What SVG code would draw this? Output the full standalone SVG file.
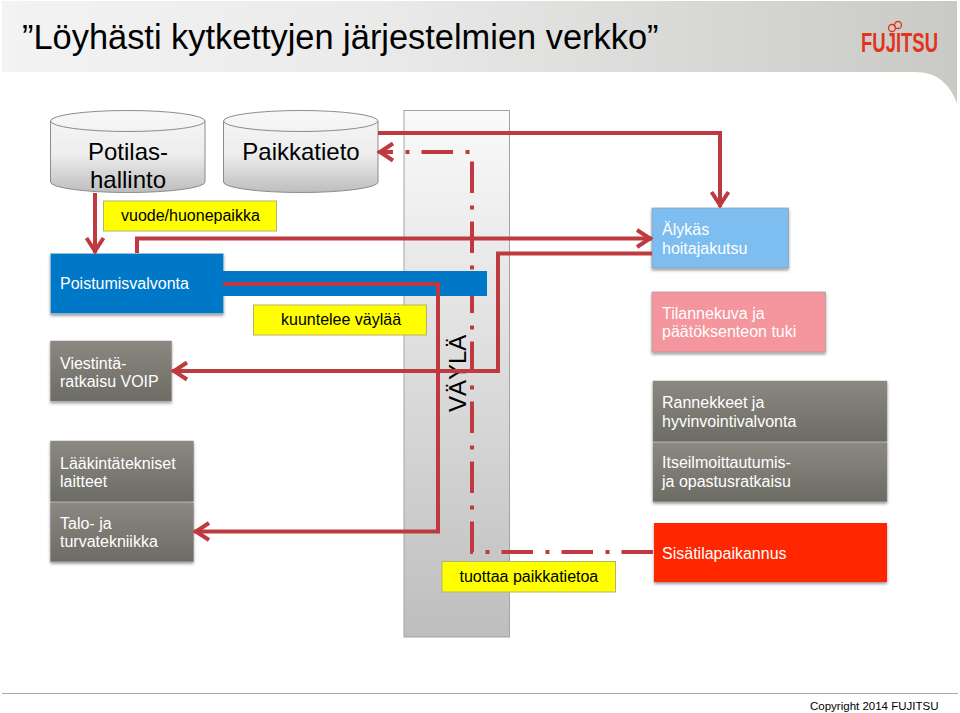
<svg xmlns="http://www.w3.org/2000/svg" width="960" height="713" viewBox="0 0 960 713">
<style>
text{font-family:"Liberation Sans",Arial,sans-serif}
.w{fill:#fff;font-size:16px}
.k{fill:#000;font-size:16px}
.c{fill:#000;font-size:24px;text-anchor:middle}
.y{fill:#ffff00;stroke:#b5b36a;stroke-width:1}
.g{fill:url(#gG);stroke:#8a8880;stroke-width:.5;filter:url(#sh)}
.cy{fill:url(#gC);stroke:#8c8c8c;stroke-width:1}
.r{fill:none;stroke:#bf3a40;stroke-width:4;stroke-linejoin:miter}
</style>
<defs>
<linearGradient id="gH" x1="0" y1="0" x2="1" y2="0"><stop offset="0" stop-color="#f3f3f3"/><stop offset=".4" stop-color="#eaeaea"/><stop offset="1" stop-color="#c9c9c6"/></linearGradient>
<linearGradient id="gC" x1="0" y1="0" x2="0" y2="1"><stop offset="0" stop-color="#f8f8f8"/><stop offset=".55" stop-color="#ececec"/><stop offset="1" stop-color="#bdbdbd"/></linearGradient>
<linearGradient id="gB" x1="0" y1="0" x2="0" y2="1"><stop offset="0" stop-color="#fafafa"/><stop offset="1" stop-color="#bebebe"/></linearGradient>
<linearGradient id="gG" x1="0" y1="0" x2="0" y2="1"><stop offset="0" stop-color="#8b8881"/><stop offset="1" stop-color="#6c6b64"/></linearGradient>
<filter id="sh" x="-10%" y="-10%" width="120%" height="125%"><feDropShadow dx="0" dy="2" stdDeviation="1.5" flood-color="#000" flood-opacity=".4"/></filter>
<marker id="ah" markerUnits="userSpaceOnUse" markerWidth="24" markerHeight="24" refX="20" refY="12" orient="auto" overflow="visible"><path d="M5,3.5 L18,12 L5,20.5" fill="none" stroke="#bf3a40" stroke-width="4"/></marker>
</defs>
<rect width="960" height="713" fill="#fff"/>
<g id="header">
<path d="M2,1 H957 V103 C950,85 938,72 915,72 H2 Z" fill="url(#gH)"/>
<text x="22" y="49" fill="#000" style="font-size:34.400px">”Löyhästi kytkettyjen järjestelmien verkko”</text>
<g id="logo">
<text transform="translate(861,52) scale(.66,1)" fill="#e2341c" style="font-size:28px;font-weight:bold">FUJITSU</text>
<circle cx="892" cy="28" r="3.5" fill="none" stroke="#e2341c" stroke-width="1.3"/><circle cx="898" cy="25" r="3.5" fill="none" stroke="#e2341c" stroke-width="1.3"/>
</g>
</g>
<g id="bus"><rect x="404" y="110.5" width="105.5" height="526.5" fill="url(#gB)" stroke="#a3a3a3" stroke-width="1"/>
<text transform="translate(466,412) rotate(-90)" fill="#000" style="font-size:24px">VÄYLÄ</text></g>
<g id="potilashallinto"><path class="cy" d="M50.5,121 V182 A77.25,10.5 0 0 0 205,182 V121 A77.25,10.5 0 0 0 50.5,121 A77.25,10.5 0 0 0 205,121"/><text class="c" x="128" y="160">Potilas-</text><text class="c" x="128" y="188">hallinto</text></g>
<g id="paikkatieto"><path class="cy" d="M223.5,121 V182 A77.25,10.5 0 0 0 378,182 V121 A77.25,10.5 0 0 0 223.5,121 A77.25,10.5 0 0 0 378,121"/><text class="c" x="301" y="160">Paikkatieto</text></g>
<g id="vuode"><rect class="y" x="103.5" y="201" width="173" height="30"/><text class="k" x="121" y="221">vuode/huonepaikka</text></g>
<g id="poistumisvalvonta"><rect x="50.5" y="253.5" width="173" height="60" fill="#0078c8" stroke="#b9c4cc" stroke-width=".5" filter="url(#sh)"/><text class="w" x="60" y="289">Poistumisvalvonta</text></g>
<g id="kuuntelee"><rect class="y" x="253.5" y="305" width="173" height="30"/><text class="k" x="281" y="325">kuuntelee väylää</text></g>
<g id="viestinta"><rect class="g" x="50.5" y="341" width="121" height="60"/><text class="w" x="60" y="369">Viestintä-</text><text class="w" x="60" y="387">ratkaisu VOIP</text></g>
<g id="laakinta"><rect class="g" x="50.5" y="441" width="143" height="60.5"/><text class="w" x="60" y="469">Lääkintätekniset</text><text class="w" x="60" y="487">laitteet</text></g>
<g id="talo"><rect class="g" x="50.5" y="503" width="143" height="58.5"/><text class="w" x="60" y="529">Talo- ja</text><text class="w" x="60" y="547">turvatekniikka</text></g>
<g id="alykas"><rect x="652" y="208" width="136.5" height="60" fill="#7dbdf0" stroke="#8a9aa5" stroke-width=".7" filter="url(#sh)"/><text class="w" x="662" y="235">Älykäs</text><text class="w" x="662" y="254">hoitajakutsu</text></g>
<g id="tilannekuva"><rect x="652" y="292" width="173.5" height="60" fill="#f5959d" stroke="#a59a9b" stroke-width=".7" filter="url(#sh)"/><text class="w" x="662" y="319">Tilannekuva ja</text><text class="w" x="662" y="337">päätöksenteon tuki</text></g>
<g id="rannekkeet"><rect class="g" x="653" y="381" width="234" height="60.5"/><text class="w" x="662" y="408">Rannekkeet ja</text><text class="w" x="662" y="427">hyvinvointivalvonta</text></g>
<g id="itseilmoittautumis"><rect class="g" x="653" y="443" width="234" height="58.5"/><text class="w" x="662" y="468">Itseilmoittautumis-</text><text class="w" x="662" y="487">ja opastusratkaisu</text></g>
<g id="sisatila"><rect x="654" y="523" width="233" height="59" fill="#ff2800" filter="url(#sh)"/><text class="w" x="662" y="559">Sisätilapaikannus</text></g>
<g id="tuottaa"><rect class="y" x="442" y="561.5" width="173.5" height="30.5"/><text class="k" x="459.5" y="582">tuottaa paikkatietoa</text></g>
<g id="connectors">
<path class="r" stroke-dasharray="31.5 12 4 12.5" d="M653,552 H472 V152 H378" marker-end="url(#ah)"/>
<path d="M223,283.500 H487" stroke="#0078c8" stroke-width="25" fill="none"/>
<path class="r" d="M378,133 H720 V207" marker-end="url(#ah)"/>
<path class="r" d="M95,193 V253" marker-end="url(#ah)"/>
<path class="r" d="M137,253 V238.500 H652" marker-end="url(#ah)"/>
<path class="r" d="M223,284 H438 V531.500 H194" marker-end="url(#ah)"/>
<path class="r" d="M652,253.500 H498 V371 H172" marker-end="url(#ah)"/>
</g>
<g id="footer"><path d="M2,693.500 H958" stroke="#a8a8a8" stroke-width="1.2" fill="none"/><text x="810" y="710" fill="#000" style="font-size:11.500px">Copyright 2014 FUJITSU</text></g>
</svg>
